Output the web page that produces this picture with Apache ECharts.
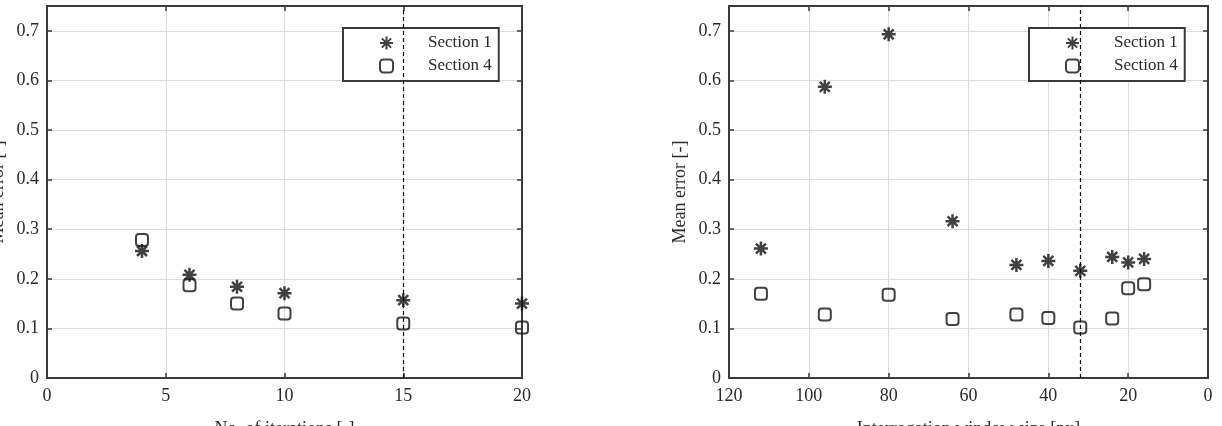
<!DOCTYPE html>
<html>
<head>
<meta charset="utf-8">
<script src="https://cdn.jsdelivr.net/npm/echarts@6/dist/echarts.min.js"></script>
<style>
html,body{margin:0;padding:0;background:#fff;}
#chart{width:1222px;height:426px;}
</style>
</head>
<body>
<div id="chart"></div>
<script>
// ---- data ----
const iterations = [4, 6, 8, 10, 15, 20];
const iterSection1 = [0.256, 0.208, 0.184, 0.171, 0.157, 0.150];
const iterSection4 = [0.278, 0.187, 0.150, 0.130, 0.110, 0.102];
const iterChosen = 15;

const windowSizes = [112, 96, 80, 64, 48, 40, 32, 24, 20, 16];
const winSection1 = [0.261, 0.587, 0.693, 0.316, 0.228, 0.236, 0.216, 0.244, 0.233, 0.240];
const winSection4 = [0.170, 0.128, 0.168, 0.119, 0.128, 0.121, 0.102, 0.120, 0.181, 0.189];
const windowChosen = 32;

const seriesNames = ['Section 1', 'Section 4'];
const xTitles = ['No. of iterations [-]', 'Interrogation window size [px]'];
const yTitle = 'Mean error [-]';

// ---- style ----
const FONT = "'Liberation Serif', 'DejaVu Serif', serif";
const TXT = '#2a2a2a';
const FRAME = '#3a3a3a';
const GRID = '#dcdcdc';
const STAR = 'path://M0,-10 L0,10 M-10,0 L10,0 M-7.1,-7.1 L7.1,7.1 M-7.1,7.1 L7.1,-7.1';

function pairs(xs, ys) { return xs.map((x, i) => [x, ys[i]]); }

function yLabel(v) {
  const t = Math.round(v * 10);
  if (Math.abs(v * 10 - t) > 1e-6) return '';
  return t === 0 ? '0' : (t / 10).toFixed(1);
}

function xAxisPair(gi, max, interval, inverse, name) {
  const common = {
    type: 'value', gridIndex: gi, min: 0, max: max, interval: interval, inverse: inverse,
    axisLine: { show: true, onZero: false, lineStyle: { color: FRAME, width: 2 } },
    axisTick: { show: true, inside: true, length: 5, lineStyle: { color: FRAME, width: 1.5 } }
  };
  return [
    Object.assign({}, common, {
      position: 'bottom',
      name: name, nameLocation: 'middle', nameGap: 42,
      nameTextStyle: { fontFamily: FONT, fontSize: 18, color: TXT },
      axisLabel: { show: true, margin: 9, fontFamily: FONT, fontSize: 18, color: TXT },
      splitLine: { show: true, lineStyle: { color: GRID, width: 1 } }
    }),
    Object.assign({}, common, {
      position: 'top',
      axisLabel: { show: false },
      splitLine: { show: false }
    })
  ];
}

function yAxisPair(gi) {
  const common = {
    type: 'value', gridIndex: gi, min: 0, max: 0.75, interval: 0.1,
    axisLine: { show: true, onZero: false, lineStyle: { color: FRAME, width: 2 } },
    axisTick: { show: true, inside: true, length: 5, lineStyle: { color: FRAME, width: 1.5 } }
  };
  return [
    Object.assign({}, common, {
      position: 'left',
      name: yTitle, nameLocation: 'middle', nameGap: 40, nameRotate: 90,
      nameTextStyle: { fontFamily: FONT, fontSize: 18, color: TXT },
      axisLabel: { show: true, margin: 8, formatter: yLabel, fontFamily: FONT, fontSize: 18, color: TXT },
      splitLine: { show: true, lineStyle: { color: GRID, width: 1 } }
    }),
    Object.assign({}, common, {
      position: 'right',
      axisLabel: { show: false },
      splitLine: { show: false }
    })
  ];
}

const starStyle = { color: 'rgba(0,0,0,0)', borderColor: '#111', borderWidth: 2.5 };
const squareStyle = { color: 'rgba(255,255,255,0)', borderColor: '#111', borderWidth: 2 };

function dashed(x) {
  return {
    silent: true, symbol: 'none', animation: false,
    label: { show: false },
    lineStyle: { color: '#111', type: [4, 3], width: 1.2 },
    data: [{ xAxis: x }]
  };
}

function legendAt(left) {
  return {
    left: left, top: 28, orient: 'vertical',
    data: [
      { name: seriesNames[0], icon: STAR },
      { name: seriesNames[1], icon: 'roundRect' }
    ],
    itemWidth: 13, itemHeight: 13, itemGap: 5,
    padding: [6, 7, 6, 36],
    backgroundColor: '#fff',
    borderColor: FRAME, borderWidth: 2, borderRadius: 0,
    selectedMode: false,
    formatter: n => '{s|}' + n,
    textStyle: {
      fontFamily: FONT, fontSize: 17, color: TXT, lineHeight: 18,
      rich: { s: { width: 30 } }
    }
  };
}

const [xb0, xt0] = xAxisPair(0, 20, 5, false, xTitles[0]);
const [xb1, xt1] = xAxisPair(1, 120, 20, true, xTitles[1]);
const [yl0, yr0] = yAxisPair(0);
const [yl1, yr1] = yAxisPair(1);

const option = {
  animation: false,
  backgroundColor: '#fff',
  grid: [
    { left: 47, right: 700, top: 6, bottom: 48, containLabel: false, outerBoundsMode: 'none' },
    { left: 729, right: 14, top: 6, bottom: 48, containLabel: false, outerBoundsMode: 'none' }
  ],
  xAxis: [xb0, xt0, xb1, xt1],
  yAxis: [yl0, yr0, yl1, yr1],
  legend: [legendAt(343), legendAt(1029)],
  series: [
    {
      name: seriesNames[0], type: 'scatter', xAxisIndex: 0, yAxisIndex: 0,
      symbol: STAR, symbolSize: 14, itemStyle: starStyle,
      data: pairs(iterations, iterSection1),
      markLine: dashed(iterChosen), z: 3
    },
    {
      name: seriesNames[1], type: 'scatter', xAxisIndex: 0, yAxisIndex: 0,
      symbol: 'roundRect', symbolSize: 12, itemStyle: squareStyle,
      data: pairs(iterations, iterSection4), z: 4
    },
    {
      name: seriesNames[0], type: 'scatter', xAxisIndex: 2, yAxisIndex: 2,
      symbol: STAR, symbolSize: 14, itemStyle: starStyle,
      data: pairs(windowSizes, winSection1),
      markLine: dashed(windowChosen), z: 3
    },
    {
      name: seriesNames[1], type: 'scatter', xAxisIndex: 2, yAxisIndex: 2,
      symbol: 'roundRect', symbolSize: 12, itemStyle: squareStyle,
      data: pairs(windowSizes, winSection4), z: 4
    }
  ]
};

const chart = echarts.init(document.getElementById('chart'), null, { renderer: 'canvas' });
chart.setOption(option);
</script>
</body>
</html>
